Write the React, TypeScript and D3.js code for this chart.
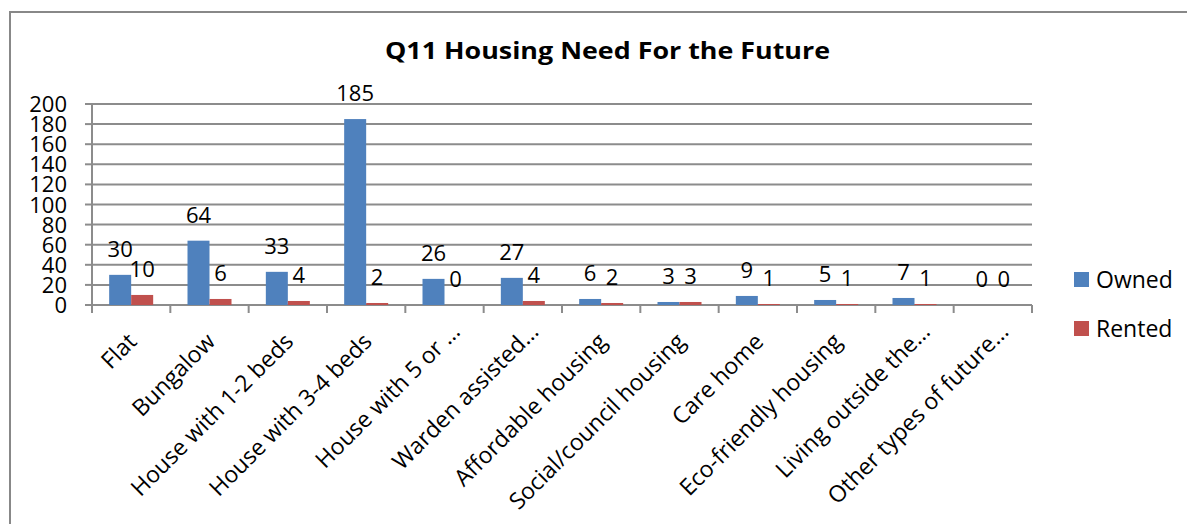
import React from "react";
import * as d3 from "d3";

const categories = [
  "Flat",
  "Bungalow",
  "House with 1-2 beds",
  "House with 3-4 beds",
  "House with 5 or …",
  "Warden assisted…",
  "Affordable housing",
  "Social/council housing",
  "Care home",
  "Eco-friendly housing",
  "Living outside the…",
  "Other types of future…",
];
const owned = [30, 64, 33, 185, 26, 27, 6, 3, 9, 5, 7, 0];
const rented = [10, 6, 4, 2, 0, 4, 2, 3, 1, 1, 1, 0];
const yTicks = [0, 20, 40, 60, 80, 100, 120, 140, 160, 180, 200];
const seriesNames = ["Owned", "Rented"];
const colors = ["#4F81BD", "#C0504D"];
const title = "Q11 Housing Need For the Future";

const W = 1187;
const H = 524;
const FONT = "'Open Sans', 'Noto Sans', sans-serif";

export default function App() {
  const left = 92;
  const right = 1032;
  const top = 104;
  const bottom = 305;

  const x = d3.scaleBand<string>().domain(categories).range([left, right]).paddingInner(0).paddingOuter(0);
  const y = d3.scaleLinear().domain([0, 200]).range([bottom, top]);
  const bw = 22;
  const series = [owned, rented];
  const grid = "#8C8C8C";

  return (
    <svg width={W} height={H} style={{ position: "absolute", left: 0, top: 0 }} fontFamily={FONT}>
      <rect x={0} y={0} width={W} height={H} fill="#fff" />
      <rect x={10} y={12} width={W + 20} height={H + 20} fill="none" stroke="#888" strokeWidth={2} />
      <text
        x={607.5}
        y={59}
        textAnchor="middle"
        fontWeight="bold"
        fontSize={23}
        fill="#000"
        textLength={445}
        lengthAdjust="spacingAndGlyphs"
      >
        {title}
      </text>
      {yTicks.map((t) => (
        <g key={t}>
          <line x1={left} x2={right} y1={y(t)} y2={y(t)} stroke={grid} strokeWidth={2} />
          <line x1={left - 7} x2={left} y1={y(t)} y2={y(t)} stroke={grid} strokeWidth={2} />
          <text x={67} y={y(t) + 8} textAnchor="end" fontSize={22} fill="#000">
            {t}
          </text>
        </g>
      ))}
      <line x1={left} x2={left} y1={top} y2={bottom} stroke={grid} strokeWidth={2} />
      {d3.range(categories.length + 1).map((i) => {
        const xx = left + i * x.step();
        return <line key={i} x1={xx} x2={xx} y1={bottom} y2={bottom + 8} stroke={grid} strokeWidth={2} />;
      })}
      {categories.map((c, i) => {
        const cx = (x(c) as number) + x.bandwidth() / 2;
        const extra = c.endsWith("…") ? 10 : 0;
        return (
          <g key={c}>
            {series.map((s, k) => {
              const bx = cx - bw + k * bw;
              const v = s[i];
              return (
                <g key={k}>
                  <rect x={bx} y={y(v)} width={bw} height={bottom - y(v)} fill={colors[k]} />
                  <text x={bx + bw / 2} y={y(v) - 18} textAnchor="middle" fontSize={22} fill="#000">
                    {v}
                  </text>
                </g>
              );
            })}
            <text
              transform={`translate(${cx + 7 + extra},${bottom + 38 - extra}) rotate(-45)`}
              textAnchor="end"
              fontSize={23}
              fill="#000"
            >
              {c}
            </text>
          </g>
        );
      })}
      {seriesNames.map((n, k) => (
        <g key={n}>
          <rect x={1074} y={272 + k * 49} width={15} height={15} fill={colors[k]} />
          <text x={1096} y={288 + k * 49} fontSize={23} fill="#000">
            {n}
          </text>
        </g>
      ))}
    </svg>
  );
}
